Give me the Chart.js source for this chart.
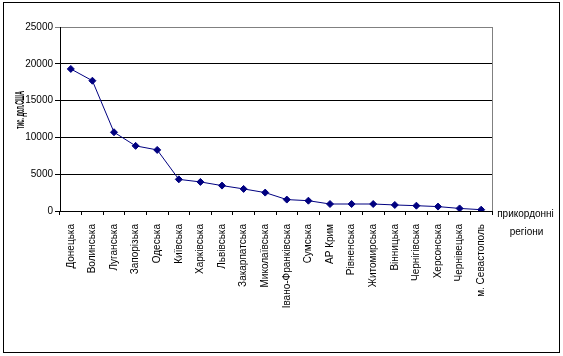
<!DOCTYPE html>
<html>
<head>
<meta charset="utf-8">
<script src="https://cdn.jsdelivr.net/npm/chart.js@4/dist/chart.umd.min.js"></script>
<style>
html,body{margin:0;padding:0;background:#fff;}
#wrap{position:absolute;left:0;top:0;width:563px;height:356px;}
</style>
</head>
<body>
<div id="wrap"><canvas id="c" width="563" height="356"></canvas></div>
<script>
const categories = ["Донецька","Волинська","Луганська","Запорізька","Одеська","Київська","Харківська","Львівська","Закарпатська","Миколаївська","Івано-Франківська","Сумська","АР Крим","Рівненська","Житомирська","Вінницька","Чернігівська","Херсонська","Чернівецька","м. Севастополь"];
const values = [19300,17700,10700,8850,8300,4300,3950,3450,3000,2500,1550,1400,950,950,950,820,720,600,350,180];
const yTitle = "тис. дол.США";
const xTitleLines = ["прикордонні","регіони"];
const yMin = 0, yMax = 25000, yStep = 5000;

const FONT = "'Liberation Sans Narrow', 'Liberation Sans', Arial, sans-serif";

const decor = {
  id: 'decor',
  afterDraw(chart) {
    const ctx = chart.ctx, a = chart.chartArea;
    ctx.save();
    // outer border
    ctx.strokeStyle = '#000'; ctx.lineWidth = 1;
    ctx.strokeRect(3.5, 2.5, 556, 350);
    // right plot border (grey)
    ctx.strokeStyle = '#808080';
    ctx.beginPath();
    ctx.moveTo(Math.round(a.right) + 0.5, a.top);
    ctx.lineTo(Math.round(a.right) + 0.5, a.bottom);
    ctx.stroke();
    // y title
    ctx.fillStyle = '#000';
    ctx.save();
    ctx.translate(21, (a.top + a.bottom) / 2 - 9);
    ctx.rotate(-Math.PI / 2);
    ctx.font = "bold 12px 'Liberation Sans', Arial, sans-serif";
    const w = ctx.measureText(yTitle).width;
    ctx.scale(38 / w, 1);
    ctx.textAlign = 'center'; ctx.textBaseline = 'middle';
    ctx.fillText(yTitle, 0, 0);
    ctx.restore();
    // x title at right
    ctx.font = "10px " + FONT;
    ctx.textAlign = 'center'; ctx.textBaseline = 'middle';
    ctx.fillText(xTitleLines[0], 525.5, a.bottom + 3);
    ctx.fillText(xTitleLines[1], 526.5, a.bottom + 21);
    ctx.restore();
  }
};

new Chart(document.getElementById('c'), {
  type: 'line',
  data: {
    labels: categories,
    datasets: [{
      data: values,
      borderColor: '#000080',
      backgroundColor: '#000080',
      borderWidth: 1,
      pointStyle: 'rectRot',
      pointRadius: 3.5,
      pointBorderWidth: 1,
      pointBackgroundColor: '#000080',
      pointBorderColor: '#000080',
      tension: 0,
      fill: false
    }]
  },
  options: {
    responsive: false,
    animation: false,
    devicePixelRatio: 1,
    layout: { padding: { left: 0, top: 27, right: 71, bottom: 0 } },
    plugins: { legend: { display: false }, tooltip: { enabled: false } },
    scales: {
      x: {
        offset: true,
        grid: { offset: true, drawOnChartArea: false, drawTicks: true, tickLength: 4, color: '#000' },
        border: { color: '#000', width: 1 },
        ticks: { color: '#000', font: { family: FONT, size: 10 }, minRotation: 90, maxRotation: 90, autoSkip: false, padding: 9 },
        afterFit(s) { s.height = 145; }
      },
      y: {
        min: yMin, max: yMax,
        grid: {
          color: (c) => (c.tick && c.tick.value === yMax) ? '#808080' : '#000',
          tickLength: 5, lineWidth: 1
        },
        border: { color: '#000', width: 1 },
        ticks: { stepSize: yStep, color: '#000', font: { family: FONT, size: 10 }, padding: 2,
                 callback: (v) => String(v) },
        afterFit(s) { s.width = 60; }
      }
    }
  },
  plugins: [decor]
});
</script>
</body>
</html>
